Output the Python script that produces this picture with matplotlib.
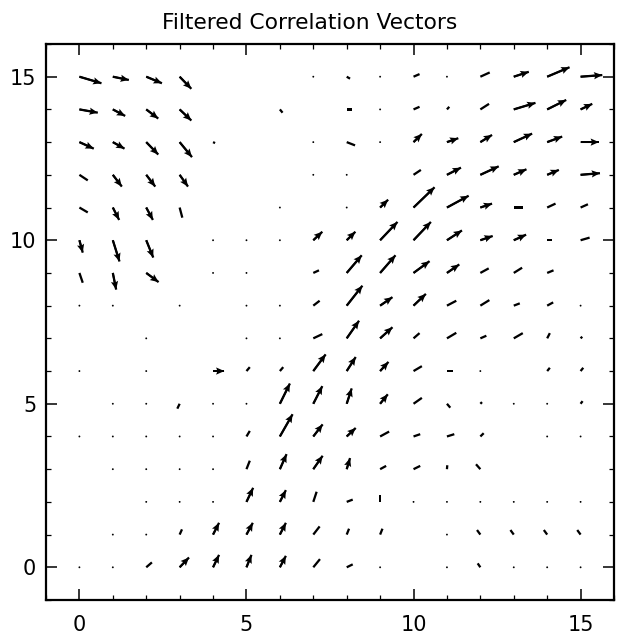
import numpy as np
import matplotlib
matplotlib.use("Agg")
import matplotlib.pyplot as plt
from matplotlib.ticker import MultipleLocator

N = np.nan
# grid coordinates
xs = list(range(16))
ys = list(range(16))

# u components, rows listed from y=15 (top) down to y=0, columns x=0..15
U_rows = [
    [0.66, 0.48, 0.47, 0.35, N, N, N, 0, 0.10, 0, 0.18, 0, 0.28, 0.45, 0.67, 0.65],
    [0.55, 0.37, 0.36, 0.35, N, N, 0.08, N, 0.15, 0, 0.18, 0.07, 0.26, 0.65, 0.57, 0.35],
    [0.43, 0.35, 0.36, 0.37, 0.06, N, N, 0, 0.25, 0, 0.25, 0.34, 0.35, 0.55, 0.45, 0.55],
    [0.25, 0.27, 0.27, 0.25, N, N, N, 0, 0, N, 0.22, 0.42, 0.55, 0.38, 0.35, 0.58],
    [0.25, 0.19, 0.20, 0.08, N, N, 0, N, 0, 0.24, 0.63, 0.65, 0.35, 0.28, 0.25, 0.22],
    [0.10, 0.20, 0.21, N, 0, 0, 0, 0.27, 0.26, 0.52, 0.52, 0.45, 0.37, 0.37, 0.15, 0.27],
    [0.10, 0.10, 0.37, N, 0, 0, N, 0.17, 0.45, 0.46, 0.48, 0.37, 0.25, 0.25, 0.19, N],
    [0, 0, N, 0, N, 0, 0, 0.19, 0.47, 0.37, 0.37, 0.28, 0.27, 0.18, 0.18, 0],
    [N, N, 0, N, N, 0, 0, 0.27, 0.37, 0.37, 0.18, 0.28, 0.18, 0.27, 0.08, 0.05],
    [0, N, 0, N, 0.34, 0.10, 0.10, 0.37, 0.27, 0.25, 0.25, 0.18, 0, N, 0.08, 0.08],
    [N, 0, 0, -0.07, 0, 0, 0.30, 0.27, 0.15, 0.23, 0.25, 0.10, 0.05, 0, 0, 0.06],
    [0, 0, 0, 0, 0, 0.10, 0.38, 0.28, 0.27, 0.27, 0.20, 0.22, 0.10, N, 0, 0],
    [N, 0, 0, 0, 0, 0.10, 0.20, 0.28, 0.10, 0.18, 0.20, 0.01, -0.13, N, N, N],
    [N, N, 0, 0, 0, 0.20, 0.18, 0.10, 0.18, 0, 0, 0, 0, 0, 0, 0],
    [N, 0, 0, 0.07, 0.18, 0.19, 0.18, 0.19, 0.07, 0.07, N, 0, -0.10, -0.10, -0.10, -0.10],
    [0, 0, 0.17, 0.28, 0.18, 0.15, 0.18, 0.20, 0.18, 0, N, 0, -0.08, 0, 0, 0],
]

# v components, same layout
V_rows = [
    [-0.20, -0.10, -0.20, -0.37, N, N, N, 0, -0.06, 0, 0.08, 0, 0.13, 0.15, 0.29, 0.05],
    [-0.10, -0.20, -0.28, -0.34, N, N, -0.10, N, 0, 0, 0.08, 0.08, 0.17, 0.20, 0.29, 0.17],
    [-0.20, -0.20, -0.38, -0.46, -0.03, N, N, 0, -0.10, 0, 0.25, 0.12, 0.22, 0.26, 0.17, 0],
    [-0.17, -0.36, -0.36, -0.36, N, N, N, 0, 0, N, 0.15, 0.22, 0.26, 0.17, 0.15, 0.05],
    [-0.15, -0.38, -0.38, -0.31, N, N, 0, N, 0, 0.24, 0.62, 0.36, 0.12, 0, 0.12, 0.10],
    [-0.38, -0.65, -0.53, N, 0, 0, 0, 0.26, 0.26, 0.56, 0.56, 0.30, 0.13, 0.17, 0, 0.08],
    [-0.30, -0.51, -0.28, N, 0, 0, N, 0.08, 0.54, 0.54, 0.36, 0.26, 0.14, 0.16, 0.08, N],
    [0, 0, N, 0, N, 0, 0, 0.15, 0.61, 0.26, 0.36, 0.15, 0.17, 0.07, 0.10, 0],
    [N, N, 0, N, N, 0, 0, 0.13, 0.54, 0.34, 0.16, 0.17, 0.08, 0.16, 0.16, 0.05],
    [0, N, 0, N, 0, 0.12, 0.12, 0.51, 0.43, 0.28, 0.15, 0, 0, N, 0.10, 0.10],
    [N, 0, 0, -0.15, 0, 0, 0.62, 0.54, 0.47, 0.29, 0.18, -0.12, 0.05, 0, 0, 0.08],
    [0, 0, 0, 0, 0, 0.17, 0.68, 0.37, 0.26, 0.15, 0.07, 0.07, 0.10, N, 0, 0],
    [N, 0, 0, 0, 0, 0.26, 0.46, 0.41, 0.34, 0.10, 0.10, 0.12, 0.15, N, N, N],
    [N, N, 0, 0, 0, 0.43, 0.36, 0.31, 0.07, 0.22, 0, 0, 0, 0, 0, 0],
    [N, 0, 0, 0.16, 0.36, 0.36, 0.36, 0.25, 0.18, 0.18, N, 0, 0.14, 0.14, 0.14, 0.14],
    [0, 0, 0.15, 0.30, 0.38, 0.38, 0.35, 0.25, 0.09, 0, N, 0, 0.12, 0, 0, 0],
]

title = "Filtered Correlation Vectors"
tick_vals = [0, 5, 10, 15]

X, Y = np.meshgrid(xs, ys[::-1])
Ua = np.array(U_rows, dtype=float)
Va = np.array(V_rows, dtype=float)
mask = np.isnan(Ua) | np.isnan(Va)
U = np.ma.array(np.nan_to_num(Ua), mask=mask)
V = np.ma.array(np.nan_to_num(Va), mask=mask)
L = np.hypot(np.nan_to_num(Ua), np.nan_to_num(Va))
head_mask = mask | (L < 0.33)

fig = plt.figure(figsize=(6.21, 6.39), dpi=100)
ax = fig.add_axes([46/621, 1-600/639, (614-46)/621, (600-44)/639])

# shafts for every vector (dots where length is ~0)
ax.quiver(X, Y, U, V, angles='xy', scale_units='xy', scale=1,
          color='black', width=0.0040, headwidth=1, headlength=0,
          headaxislength=0, minshaft=1, minlength=0.9, pivot='tail')
# heads for the longer vectors
ax.quiver(X, Y, np.ma.array(U.data, mask=head_mask), np.ma.array(V.data, mask=head_mask),
          angles='xy', scale_units='xy', scale=1,
          color='black', width=0.0032, headwidth=4.0, headlength=4.6,
          headaxislength=4.0, minshaft=1.0, minlength=0.9, pivot='tail')

ax.set_xlim(-1, 16)
ax.set_ylim(-1, 16)
ax.set_xticks(tick_vals)
ax.set_yticks(tick_vals)
ax.xaxis.set_minor_locator(MultipleLocator(1))
ax.yaxis.set_minor_locator(MultipleLocator(1))
ax.tick_params(which='both', direction='in', top=True, right=True, color='black')
ax.tick_params(which='major', length=8, width=1.1, labelsize=15)
ax.tick_params(which='minor', length=3.8, width=0.9)
ax.tick_params(axis='x', which='major', pad=11)
ax.tick_params(axis='y', which='major', pad=7)
for s in ax.spines.values():
    s.set_linewidth(1.6)
ax.set_title(title, fontsize=15.7, pad=11, x=(310-46)/568)

fig.savefig("out.png", dpi=100)
